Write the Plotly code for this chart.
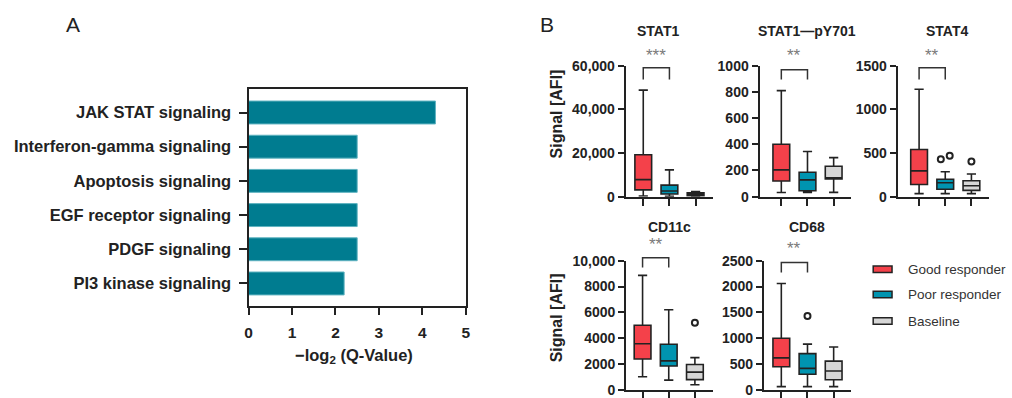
import plotly.graph_objects as go

W, H = 1012, 398

# ---------------- data ----------------
pathways = ["JAK STAT signaling", "Interferon-gamma signaling", "Apoptosis signaling",
            "EGF receptor signaling", "PDGF signaling", "PI3 kinase signaling"]
neg_log2_q = [4.3, 2.5, 2.5, 2.5, 2.5, 2.2]

groups = ["Good responder", "Poor responder", "Baseline"]
markers = ["STAT1", "STAT1\u2014pY701", "STAT4", "CD11c", "CD68"]

# five-number summaries per group: [min, q1, median, q3, max]
stat1 = [[300, 3100, 7800, 19200, 48800], [200, 1200, 2600, 5300, 12300], [100, 500, 1100, 1800, 2400]]
stat1_py701 = [[32, 120, 205, 400, 810], [33, 45, 128, 187, 345], [33, 136, 140, 232, 298]]
stat4 = [[35, 140, 295, 540, 1230], [35, 85, 160, 200, 285], [35, 72, 125, 182, 260]]
cd11c = [[1020, 2400, 3570, 5010, 8860], [760, 1860, 2250, 3540, 6200], [400, 800, 1380, 1970, 2500]]
cd68 = [[65, 450, 620, 1000, 2058], [65, 304, 418, 703, 886], [65, 197, 368, 558, 830]]

stat1_out = [[], [], []]
stat1_py701_out = [[], [], []]
stat4_out = [[], [430, 468], [404]]
cd11c_out = [[], [], [5190]]
cd68_out = [[], [1431], []]

significance = ["***", "**", "**", "**", "**"]

y_ticks = [[0, 20000, 40000, 60000], [0, 200, 400, 600, 800, 1000], [0, 500, 1000, 1500],
           [0, 2000, 4000, 6000, 8000, 10000], [0, 500, 1000, 1500, 2000, 2500]]
y_ticktext = [["0", "20,000", "40,000", "60,000"], ["0", "200", "400", "600", "800", "1000"],
              ["0", "500", "1000", "1500"], ["0", "2000", "4000", "6000", "8000", "10,000"],
              ["0", "500", "1000", "1500", "2000", "2500"]]

# ---------------- style ----------------
FONT = "Liberation Sans"
INK = "#222222"
BAR_COLOR = "#007C90"
GROUP_COLORS = ["#F4414A", "#0094B0", "#D6D6D6"]

# vertical calibration of the capture (measured: shown_y = 7 + 0.965 * page_y)
V_OFF, V_SCALE = 7.0, 0.965


def px(x):
    return x / W


def py(y):
    v = 1 - ((y - V_OFF) / V_SCALE) / H
    return min(1.0, max(0.0, v))


def note(text, x, y, size, bold=False, color=INK, xref="paper", yref="paper", **kw):
    f = dict(family=FONT, size=size, color=color)
    if bold:
        f["weight"] = "bold"
    d = dict(text=text, x=x, y=y, xref=xref, yref=yref, showarrow=False,
             xanchor="center", yanchor="middle", font=f)
    d.update(kw)
    return d


fig = go.Figure()

# ---------------- panel A ----------------
fig.add_trace(go.Bar(
    x=neg_log2_q, y=pathways, orientation="h", width=0.67,
    marker=dict(color=BAR_COLOR, line=dict(color="#5FB3C0", width=1)),
    xaxis="x", yaxis="y", showlegend=False,
))

layout = dict(
    width=W, height=H, margin=dict(l=0, r=0, t=0, b=0),
    paper_bgcolor="white", plot_bgcolor="white",
    font=dict(family=FONT, color=INK),
    showlegend=False,
    xaxis=dict(domain=[px(246.7), px(466)], range=[0, 5], anchor="y",
               showline=True, linecolor=INK, linewidth=2, mirror=True,
               ticks="outside", ticklen=7, tickwidth=2, tickcolor=INK,
               ticklabelstandoff=4,
               tickvals=[0, 1, 2, 3, 4, 5], showgrid=False, zeroline=False,
               tickfont=dict(family=FONT, size=15.5, weight="bold", color=INK)),
    yaxis=dict(domain=[py(307), py(88)], type="category",
               categoryorder="array", categoryarray=pathways,
               range=[5.67, -0.7], anchor="x",
               showline=True, linecolor=INK, linewidth=2, mirror=True,
               ticks="outside", ticklen=8, tickwidth=2, tickcolor=INK,
               ticklabelstandoff=4,
               showgrid=False, zeroline=False,
               tickfont=dict(family=FONT, size=16.5, weight="bold", color=INK)),
)

annotations = [
    note("A", px(70), py(24), 21),
    note("B", px(548), py(24), 21),
    note("\u2212log<sub>2</sub> (Q-Value)", px(353), py(357), 16.5, bold=True),
]
shapes = []

# ---------------- panel B ----------------
panel_stats = [stat1, stat1_py701, stat4, cd11c, cd68]
panel_out = [stat1_out, stat1_py701_out, stat4_out, cd11c_out, cd68_out]
# layout (pixel) of each sub-panel: y-axis x, x-axis end, zero y, top y
panel_box = [(627.3, 715, 196.7, 65), (762.3, 855, 196.7, 65), (901.7, 994, 196.7, 65),
             (627.7, 715, 392.7, 261), (766.7, 855, 392.7, 261)]
first_cat_px = [645, 784.3, 923.3, 644.3, 784.3]
cat_step = 26.4
title_px = [(660, 30), (810, 30), (951, 30), (671, 227), (810.5, 227)]
star_py = [55, 55, 55, 245, 249]
bracket_px = [(67, 79), (69, 79), (67, 79), (258, 268), (263, 273)]

for k, (stats, outs) in enumerate(zip(panel_stats, panel_out)):
    n = k + 2
    xa, ya = f"x{n}", f"y{n}"
    x0, x1, yb, yt = panel_box[k]
    left = -(first_cat_px[k] - x0) / cat_step
    right = 2 + (x1 - (first_cat_px[k] + 2 * cat_step)) / cat_step
    for g, s in enumerate(stats):
        fig.add_trace(go.Box(
            x=[g], lowerfence=[s[0]], q1=[s[1]], median=[s[2]], q3=[s[3]], upperfence=[s[4]],
            width=0.64, whiskerwidth=0.55, fillcolor=GROUP_COLORS[g],
            line=dict(color=INK, width=1.6), boxpoints=False,
            xaxis=xa, yaxis=ya, showlegend=False, name=groups[g],
        ))
        if outs[g]:
            m = len(outs[g])
            offs = [(-0.17 + 0.34 * i / (m - 1)) if m > 1 else 0 for i in range(m)]
            fig.add_trace(go.Scatter(
                x=[g + o for o in offs], y=outs[g], mode="markers",
                marker=dict(symbol="circle-open", size=6, color=INK, line=dict(width=2)),
                xaxis=xa, yaxis=ya, showlegend=False, cliponaxis=False,
            ))
    layout[f"xaxis{n}"] = dict(
        domain=[px(x0), px(x1)], range=[left, right], anchor=ya,
        showline=True, linecolor=INK, linewidth=2,
        ticks="outside", ticklen=7, tickwidth=2, tickcolor=INK,
        tickvals=[0, 1, 2], showticklabels=False, showgrid=False, zeroline=False)
    layout[f"yaxis{n}"] = dict(
        domain=[py(yb), py(yt)], range=[0, y_ticks[k][-1]], anchor=xa,
        showline=True, linecolor=INK, linewidth=2,
        ticks="outside", ticklen=6, tickwidth=2, tickcolor=INK,
        tickvals=y_ticks[k], ticktext=y_ticktext[k], showgrid=False, zeroline=False,
        tickfont=dict(family=FONT, size=14, weight="bold", color=INK))
    annotations.append(note(markers[k], px(title_px[k][0]), py(title_px[k][1]), 14, bold=True))
    # significance bracket between good and poor responders
    bt, bb = py(bracket_px[k][0]), py(bracket_px[k][1])
    shapes.append(dict(type="path", xref=xa, yref="paper",
                       path=f"M 0,{bb} L 0,{bt} L 1,{bt} L 1,{bb}",
                       line=dict(color="#333333", width=1.5)))
    annotations.append(note(significance[k], 0.5, py(star_py[k]), 17, color="#7a7a7a", xref=xa))

for yc in (114, 319):
    annotations.append(note("Signal [AFI]", px(557), py(yc), 16, bold=True, textangle=-90))

legend_y = [269.7, 295, 321.7]
for g, name in enumerate(groups):
    yc = legend_y[g]
    shapes.append(dict(type="rect", xref="paper", yref="paper",
                       x0=px(877), x1=px(896), y0=py(yc + 3.2), y1=py(yc - 3.2),
                       fillcolor=GROUP_COLORS[g], line=dict(color=INK, width=1.5)))
    annotations.append(note(name, px(910), py(yc), 13.5, color="#333333", xanchor="left"))

layout["annotations"] = annotations
layout["shapes"] = shapes
fig.update_layout(**layout)

page_fix = (
    "var r=document.documentElement, b=document.body;"
    "[r,b].forEach(function(e){e.style.margin='0';e.style.padding='0';e.style.overflow='hidden';"
    "e.style.height='398px';e.style.width='1012px';});"
)
fig.write_html("out.html", config={"displayModeBar": False}, post_script=page_fix)
